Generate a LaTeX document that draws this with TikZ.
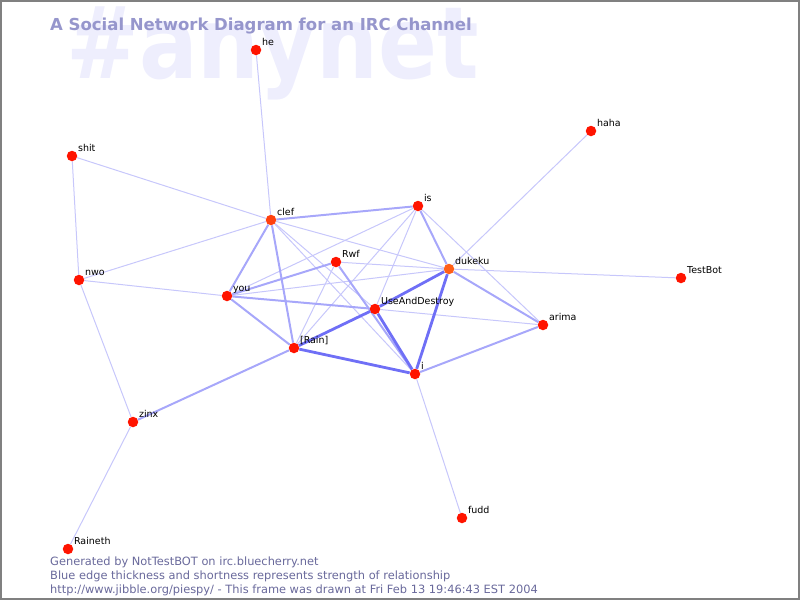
\documentclass[tikz,border=0pt]{standalone}
\usepackage{fontspec}
\setmainfont{DejaVu Sans}
\definecolor{nickred}{RGB}{255,20,0}
\definecolor{nickorange}{RGB}{255,95,25}
\definecolor{titleblue}{RGB}{150,150,204}
\definecolor{markblue}{RGB}{238,238,253}
\definecolor{footblue}{RGB}{105,105,155}
\definecolor{edgeblue}{RGB}{95,95,245}
\pgfdeclarelayer{edges}
\pgfsetlayers{edges,main}
\tikzset{
  user/.style={circle, fill=nickred, minimum size=10.5pt, inner sep=0pt},
  nick/.style={label={[font=\fontsize{9.5}{10}\selectfont, anchor=base west,
      inner sep=0pt, xshift=2pt, yshift=1pt]north east:#1}},
  weak/.style={draw=edgeblue!35, line width=1pt},
  medium/.style={draw=edgeblue!55, line width=2pt},
  strong/.style={draw=edgeblue!90, line width=2.8pt},
  footer/.style={font=\fontsize{11.4}{14}\selectfont, text=footblue,
    anchor=base west, inner sep=0pt},
}
\begin{document}
\begin{tikzpicture}[x=1pt,y=-1pt]
  \useasboundingbox (0,0) rectangle (800,600);
  \draw[gray, line width=2pt] (1,1) rectangle (799,599);

  % Channel users
  \node[user, nick=he] (he) at (256,50) {};
  \node[user, nick=shit] (shit) at (72,156) {};
  \node[user, nick=haha] (haha) at (591,131) {};
  \node[user, fill=nickorange!60!nickred, nick=clef] (clef) at (271,220) {};
  \node[user, nick=is] (is) at (418,206) {};
  \node[user, nick=nwo] (nwo) at (79,280) {};
  \node[user, nick=Rwf] (rwf) at (336,262) {};
  \node[user, fill=nickorange, nick=dukeku] (dukeku) at (449,269) {};
  \node[user, nick=TestBot] (testbot) at (681,278) {};
  \node[user, nick=you] (you) at (227,296) {};
  \node[user, nick=UseAndDestroy] (uad) at (375,309) {};
  \node[user, nick=arima] (arima) at (543,325) {};
  \node[user, nick={{[Rain]}}] (rain) at (294,348) {};
  \node[user, nick=i] (i) at (415,374) {};
  \node[user, nick=zinx] (zinx) at (133,422) {};
  \node[user, nick=fudd] (fudd) at (462,518) {};
  \node[user, nick=Raineth] (raineth) at (68,549) {};

  \begin{pgfonlayer}{edges}
    % Channel name watermark
    \node[font=\bfseries\fontsize{100}{100}\selectfont, text=markblue,
      anchor=base west, inner sep=0pt, xscale=0.87] (mark) at (66,78) {\#anynet};

    % Relationships
    \foreach \a/\b in {he/clef, shit/clef, shit/nwo, nwo/clef, nwo/you,
        nwo/zinx, zinx/raineth, haha/dukeku, dukeku/testbot, clef/uad,
        clef/i, clef/dukeku, is/arima, is/you, is/rain, is/uad, rwf/dukeku,
        rwf/rain, you/dukeku, uad/arima, i/fudd}
      \draw[weak] (\a) -- (\b);
    \foreach \a/\b in {clef/is, clef/you, clef/rain, is/dukeku, rwf/you,
        rwf/i, you/uad, you/rain, dukeku/arima, zinx/rain, i/arima}
      \draw[medium] (\a) -- (\b);
    \foreach \a/\b in {dukeku/uad, dukeku/i, uad/rain, uad/i, rain/i}
      \draw[strong] (\a) -- (\b);
  \end{pgfonlayer}

  % Title and footer
  \node[font=\bfseries\fontsize{16.5}{18}\selectfont, text=titleblue,
    anchor=base west, inner sep=0pt] (title) at (50,30)
    {A Social Network Diagram for an IRC Channel};
  \node[footer] (gen) at (50,565) {Generated by NotTestBOT on irc.bluecherry.net};
  \node[footer] (legend) at (50,579)
    {Blue edge thickness and shortness represents strength of relationship};
  \node[footer] (stamp) at (50,593)
    {http://www.jibble.org/piespy/ - This frame was drawn at Fri Feb 13 19:46:43 EST 2004};
\end{tikzpicture}
\end{document}
